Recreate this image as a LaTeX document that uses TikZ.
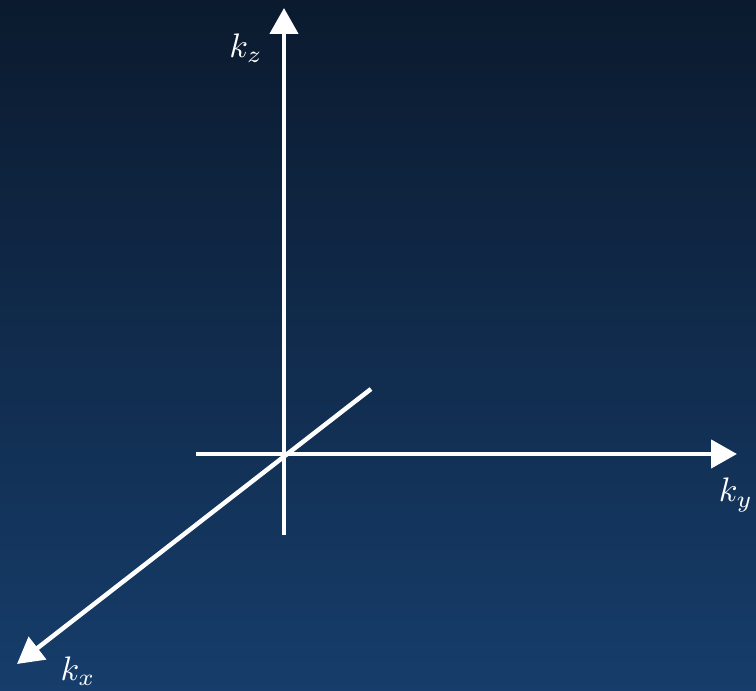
\documentclass[tikz,border=0pt]{standalone}
\usepackage{graphicx}
\usetikzlibrary{arrows.meta}
\definecolor{bgtop}{RGB}{11,26,46}
\definecolor{bgbot}{RGB}{22,61,107}
\newcommand{\biglbl}[1]{\scalebox{3.4}{$#1$}}
\begin{document}
\begin{tikzpicture}[x=1pt,y=1pt,
  axis/.style={white,line width=4.5pt,-{Triangle[width=28pt,length=26pt]}},
  lbl/.style={white,inner sep=0pt}]
\shade[top color=bgtop,bottom color=bgbot] (0,0) rectangle (756,691);
\useasboundingbox (0,0) rectangle (756,691);
% coordinates (y flipped: 691 - px)
\coordinate (ztop) at (284,683);
\coordinate (zbot) at (284,156);
\coordinate (yleft) at (196,237);
\coordinate (yright) at (737,237);
\coordinate (xback) at (371,302);
\coordinate (xfront) at (17,27);
\draw[axis] (zbot) -- (ztop);
\draw[axis] (yleft) -- (yright);
\draw[axis] (xback) -- (xfront);
\node[lbl] (kz) at (246,643) {\biglbl{k_z}};
\node[lbl] (ky) at (736,196) {\biglbl{k_y}};
\node[lbl] (kx) at (78,20) {\biglbl{k_x}};
\end{tikzpicture}
\end{document}
